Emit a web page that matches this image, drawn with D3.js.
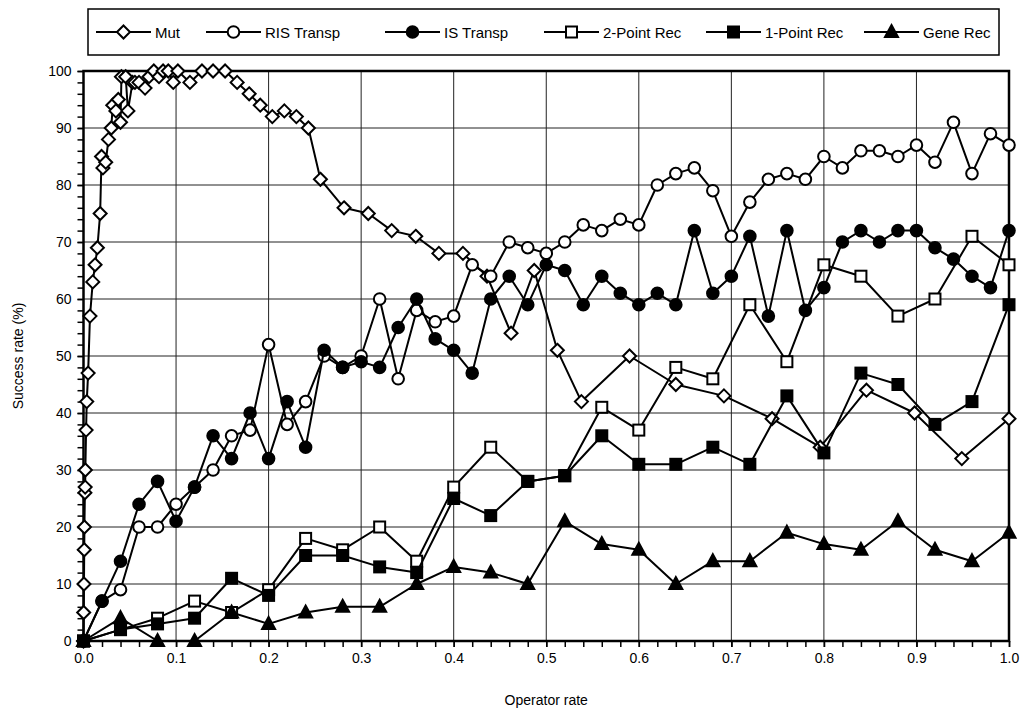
<!DOCTYPE html>
<html><head><meta charset="utf-8">
<script src="https://cdn.jsdelivr.net/npm/d3@7"></script>
<style>body{margin:0;background:#fff}svg{display:block;font-family:"Liberation Sans",Arial,sans-serif}</style>
</head><body><svg id="c" width="1023" height="709"></svg>
<script>
const seriesNames = ["Mut","RIS Transp","IS Transp","2-Point Rec","1-Point Rec","Gene Rec"];
const xTicks = [0,0.1,0.2,0.3,0.4,0.5,0.6,0.7,0.8,0.9,1.0];
const yTicks = [0,10,20,30,40,50,60,70,80,90,100];
const mutX = [0,0.0002,0.0005,0.0008,0.001,0.0015,0.0018,0.002,0.0028,0.0035,0.005,0.007,0.01,0.0125,0.015,0.018,0.0195,0.021,0.024,0.027,0.03,0.0316,0.035,0.0376,0.04,0.041,0.0456,0.048,0.053,0.0556,0.06,0.0665,0.0708,0.076,0.0816,0.086,0.0916,0.097,0.102,0.115,0.128,0.140,0.153,0.166,0.179,0.191,0.204,0.217,0.230,0.243,0.256,0.2815,0.3077,0.333,0.359,0.384,0.410,0.436,0.462,0.487,0.512,0.538,0.59,0.64,0.692,0.744,0.796,0.846,0.898,0.949,1.0];
const mutY = [0,5,10,16,20,26,27,30,37,42,47,57,63,66,69,75,85,83,84,88,90,94,93,95,91,99,99,93,98,98,98,97,99,100,99,100,100,98,100,98,100,100,100,98,96,94,92,93,92,90,81,76,75,72,71,68,68,64,54,65,51,42,50,45,43,39,34,44,40,32,39];
const transpX = [0,0.02,0.04,0.06,0.08,0.1,0.12,0.14,0.16,0.18,0.2,0.22,0.24,0.26,0.28,0.3,0.32,0.34,0.36,0.38,0.4,0.42,0.44,0.46,0.48,0.5,0.52,0.54,0.56,0.58,0.6,0.62,0.64,0.66,0.68,0.7,0.72,0.74,0.76,0.78,0.8,0.82,0.84,0.86,0.88,0.9,0.92,0.94,0.96,0.98,1.0];
const risY = [0,7,9,20,20,24,27,30,36,37,52,38,42,50,48,50,60,46,58,56,57,66,64,70,69,68,70,73,72,74,73,80,82,83,79,71,77,81,82,81,85,83,86,86,85,87,84,91,82,89,87];
const isY = [0,7,14,24,28,21,27,36,32,40,32,42,34,51,48,49,48,55,60,53,51,47,60,64,59,66,65,59,64,61,59,61,59,72,61,64,71,57,72,58,62,70,72,70,72,72,69,67,64,62,72];
const recX = [0,0.04,0.08,0.12,0.16,0.2,0.24,0.28,0.32,0.36,0.4,0.44,0.48,0.52,0.56,0.6,0.64,0.68,0.72,0.76,0.8,0.84,0.88,0.92,0.96,1.0];
const twoPtY = [0,2,4,7,5,9,18,16,20,14,27,34,28,29,41,37,48,46,59,49,66,64,57,60,71,66];
const onePtY = [0,2,3,4,11,8,15,15,13,12,25,22,28,29,36,31,31,34,31,43,33,47,45,38,42,59];
const geneY = [0,4,0,0,5,3,5,6,6,10,13,12,10,21,17,16,10,14,14,19,17,16,21,16,14,19];

const series = [
  {name:seriesNames[0], xs:mutX, ys:mutY, shape:"diamond", fill:"#fff"},
  {name:seriesNames[1], xs:transpX, ys:risY, shape:"circle", fill:"#fff"},
  {name:seriesNames[2], xs:transpX, ys:isY, shape:"circle", fill:"#000"},
  {name:seriesNames[3], xs:recX, ys:twoPtY, shape:"square", fill:"#fff"},
  {name:seriesNames[4], xs:recX, ys:onePtY, shape:"square", fill:"#000"},
  {name:seriesNames[5], xs:recX, ys:geneY, shape:"triangle", fill:"#000"}
];

const svg = d3.select("#c");
const L=83.5, R=1009, T=71, B=641;
const x = d3.scaleLinear().domain([0,1]).range([L,R]);
const y = d3.scaleLinear().domain([0,100]).range([B,T]);

// gridlines
const g = svg.append("g");
g.selectAll("line.v").data(xTicks.slice(1,-1)).join("line")
  .attr("x1",d=>x(d)).attr("x2",d=>x(d)).attr("y1",T).attr("y2",B)
  .attr("stroke","#222").attr("stroke-width",1);
g.selectAll("line.h").data(yTicks.slice(1,-1)).join("line")
  .attr("y1",d=>y(d)).attr("y2",d=>y(d)).attr("x1",L).attr("x2",R)
  .attr("stroke","#222").attr("stroke-width",1);

// axes
const xMinor = d3.range(0,51).map(i=>i/50);
const yMinor = d3.range(0,51).map(i=>i*2);
svg.append("g").attr("transform",`translate(0,${B})`)
  .call(d3.axisBottom(x).tickValues(xMinor).tickSize(6).tickFormat(""))
  .call(a=>{a.select(".domain").remove();a.selectAll("line").attr("stroke-width",1.5);});
svg.append("g").attr("transform",`translate(${L},0)`)
  .call(d3.axisLeft(y).tickValues(yMinor).tickSize(6).tickFormat(""))
  .call(a=>{a.select(".domain").remove();a.selectAll("line").attr("stroke-width",1.5);});
svg.append("g").attr("transform",`translate(0,${B})`)
  .call(d3.axisBottom(x).tickValues(xTicks).tickSize(6).tickPadding(6).tickFormat(d3.format(".1f")))
  .call(a=>{a.select(".domain").remove();a.selectAll("line").attr("stroke-width",1.5);
    a.selectAll("text").attr("font-size",14).attr("fill","#000").attr("font-family","Liberation Sans, Arial, sans-serif");});
svg.append("g").attr("transform",`translate(${L},0)`)
  .call(d3.axisLeft(y).tickValues(yTicks).tickSize(6).tickPadding(6))
  .call(a=>{a.select(".domain").remove();a.selectAll("line").attr("stroke-width",1.5);
    a.selectAll("text").attr("font-size",14).attr("fill","#000").attr("font-family","Liberation Sans, Arial, sans-serif");});

// frame
svg.append("rect").attr("x",L).attr("y",T).attr("width",R-L).attr("height",B-T)
  .attr("fill","none").attr("stroke","#000").attr("stroke-width",2.5);

// titles
svg.append("text").attr("x",(L+R)/2).attr("y",705).attr("text-anchor","middle")
  .attr("font-size",14).text("Operator rate");
svg.append("text").attr("transform",`translate(23,${(T+B)/2}) rotate(-90)`).attr("text-anchor","middle")
  .attr("font-size",14).text("Success rate (%)");

function marker(sel, shape, fill){
  if(shape==="circle") sel.append("circle").attr("r",5.8);
  else if(shape==="square") sel.append("rect").attr("x",-5.5).attr("y",-5.5).attr("width",11).attr("height",11);
  else if(shape==="diamond") sel.append("path").attr("d","M0,-6.5L6.5,0L0,6.5L-6.5,0Z");
  else sel.append("path").attr("d","M0,-7L6.5,5L-6.5,5Z");
  sel.selectAll("*").attr("fill",fill).attr("stroke","#000").attr("stroke-width",2);
}

const line = d3.line().x(d=>x(d[0])).y(d=>y(d[1]));
series.forEach(s=>{
  const pts = s.xs.map((xv,i)=>[xv,s.ys[i]]);
  const gs = svg.append("g");
  gs.append("path").attr("d",line(pts)).attr("fill","none").attr("stroke","#000").attr("stroke-width",2).attr("stroke-linejoin","round");
  gs.selectAll("g.m").data(pts).join("g").attr("transform",d=>`translate(${x(d[0])},${y(d[1])})`)
    .each(function(){marker(d3.select(this),s.shape,s.fill);});
});

// legend
const lg = svg.append("g");
lg.append("rect").attr("x",88).attr("y",9).attr("width",911).attr("height",46)
  .attr("fill","#fff").attr("stroke","#000").attr("stroke-width",1.5);
const legX = [96,206,385,544,706,864];
series.forEach((s,i)=>{
  const gx = lg.append("g").attr("transform",`translate(${legX[i]},32)`);
  gx.append("line").attr("x1",0).attr("x2",55).attr("stroke","#000").attr("stroke-width",2);
  const m = gx.append("g").attr("transform","translate(27.5,0)");
  marker(m,s.shape,s.fill);
  gx.append("text").attr("x",59).attr("y",5.5).attr("font-size",15).text(s.name);
});
</script></body></html>
